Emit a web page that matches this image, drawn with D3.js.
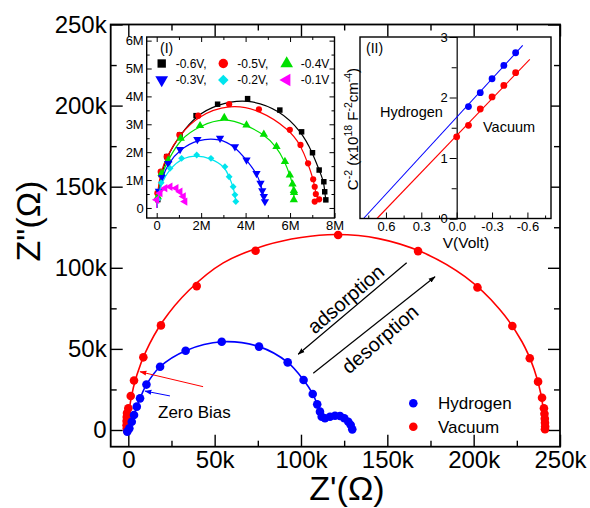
<!DOCTYPE html>
<html>
<head>
<meta charset="utf-8">
<script src="https://cdn.jsdelivr.net/npm/d3@7"></script>
<style>
  body { margin: 0; background: #fff; }
  svg { display: block; font-family: "Liberation Sans", Arial, Helvetica, sans-serif; }
</style>
</head>
<body>
<script>
// ---- main Nyquist plot, values in kOhm ----
const vacuumPts = [[-0.6,-0.6],[-0.9,0.9],[-1,3],[-1,5.5],[-0.9,8],[-0.75,10.5],[0,13.4],[1.4,21],[3.3,30.5],[8.7,44.8],[18.9,64.5],[39.6,88.7],[73.7,110.5],[121.5,120.2],[167.8,110.3],[202.2,87.9],[222.4,64.1],[232.5,44.2],[237.3,29.8],[239.6,19.9],[240.7,13.4],[241,10],[241.2,7],[241.3,4.5],[241.4,2.2],[241.3,0.5]];
const vacuumFit = [[0,0],[0.4,9.8],[1.5,19],[5,34],[10,48],[20,67],[35,86],[55,103],[80,114],[100,118.7],[120.5,120.5],[145,118],[170,109.7],[195,94.5],[215,74.5],[228,54.4],[235,37.5],[239,21.9],[240.5,10],[241,0]];
const hydrogenPts = [[-0.6,-1],[0.6,1],[2,5.1],[3.3,9.2],[4.9,14.4],[6.8,19.5],[10.5,28],[18.4,39],[33.2,48.9],[54.1,54.4],[75.7,51.4],[92.3,41.7],[101.5,30.8],[106.8,22.2],[109.4,15.8],[111,11.3],[112,8.2],[113.9,7.2],[116.8,8.2],[119.7,8.8],[122.6,8.6],[125.1,7.2],[127.4,5.1],[128.8,3.1],[129.7,0.4]];
const mainTicks = [0, 50, 100, 150, 200, 250];
const mainMinor = [25, 75, 125, 175, 225];

// annotation arrows, [from, to] in kOhm
const redArrow = [[43.3,26.7],[6.8,35.9]];
const blueArrow = [[24.1,21],[9.7,24]];
const adsArrow = [[161.2,103.1],[98.4,46.7]];
const desArrow = [[107.1,35],[177.6,94.5]];

// ---- inset (I): values in MOhm ----
const biasLabels = ["-0.6V,", "-0.5V,", "-0.4V", "-0.3V,", "-0.2V,", "-0.1V"];
const biasColors = ["#000000", "#ff0000", "#00e000", "#0000ff", "#00e5ee", "#ff00ff"];
const bias06 = [[0.05,0.3],[0.2,1.2],[0.45,1.84],[1.05,2.62],[1.77,3.31],[2.74,3.72],[4.09,3.92],[5.54,3.51],[6.52,2.73],[7.01,1.98],[7.31,1.36],[7.52,0.94],[7.56,0.58],[7.61,0.29]];
const bias05 = [[0.03,0.53],[0.18,1.3],[0.45,1.84],[1.02,2.62],[1.87,3.31],[3.26,3.72],[4.6,3.54],[5.99,2.8],[6.47,2.26],[6.81,1.6],[7.04,1.03],[7.11,0.76],[7.16,0.5],[7.31,0.31],[7.11,0.23]];
const bias04 = [[0.05,0.4],[0.22,1.24],[0.52,1.72],[1.08,2.5],[1.95,2.95],[3.04,3.24],[4.04,2.97],[4.82,2.64],[5.39,2.2],[5.77,1.66],[5.99,1.18],[6.11,0.86],[6.17,0.62],[6.18,0.55],[6.17,0.29]];
const bias03 = [[0.1,0.6],[0.25,1.1],[0.52,1.6],[1.05,2.1],[1.83,2.46],[2.85,2.5],[3.52,2.2],[4.04,1.72],[4.49,1.24],[4.67,0.89],[4.75,0.62],[4.82,0.41],[4.87,0.23]];
const bias02 = [[0.05,0.3],[0.2,0.9],[0.6,1.42],[1.12,1.78],[1.8,1.9],[2.44,1.78],[3.07,1.48],[3.26,1.12],[3.44,0.76],[3.52,0.47],[3.56,0.23]];
const bias01 = [[0,0.29],[0.15,0.53],[0.37,0.71],[0.6,0.76],[0.87,0.71],[1.05,0.58],[1.2,0.41],[1.27,0.23]];
const biasSeries = [bias06, bias05, bias04, bias03, bias02, bias01];
const fitStart = [0, 0];
const insetXTicks = [0, 2, 4, 6, 8];
const insetYTicks = [0, 1, 2, 3, 4, 5, 6];

// ---- inset (II): Mott-Schottky ----
const hydV = [-0.1, -0.2, -0.3, -0.4, -0.5];
const hydC = [1.85, 2.08, 2.31, 2.53, 2.74];
const vacV = [0, -0.1, -0.2, -0.3, -0.4, -0.5];
const vacC = [1.35, 1.54, 1.81, 2.01, 2.2, 2.41];
const hydFit = [[0.79, 0], [-0.56, 2.86]];
const vacFit = [[0.676, 0], [-0.62, 2.63]];
const msXTicks = [0.6, 0.3, 0, -0.3, -0.6];
const msXMinor = [0.75, 0.45, 0.15, -0.15, -0.45, -0.75];
const msYTicks = [0, 1, 2, 3];
const msYMinor = [0.5, 1.5, 2.5];

const width = 590, height = 508;
const RED = "#ff0000", BLUE = "#0000ff";

const svg = d3.select("body").append("svg")
  .attr("width", width).attr("height", height);

const defs = svg.append("defs");
[["red", RED], ["blue", BLUE], ["black", "#000"]].forEach(([id, c]) => {
  defs.append("marker").attr("id", "head-" + id)
    .attr("viewBox", "0 0 10 10").attr("refX", 9).attr("refY", 5)
    .attr("markerWidth", 7).attr("markerHeight", 7).attr("orient", "auto")
    .attr("markerUnits", "userSpaceOnUse")
    .append("path").attr("d", "M0,1.5L10,5L0,8.5z").attr("fill", c);
});

// ================= main plot =================
const x = d3.scaleLinear().domain([-10.2, 250]).range([110.7, 560]);
const y = d3.scaleLinear().domain([-10.3, 250]).range([446.7, 24.5]);
const fmtK = d => d === 0 ? "0" : d + "k";

function noDomain(g) { g.select(".domain").remove(); }

svg.append("g").attr("transform", `translate(0,${y.range()[0]})`)
  .call(d3.axisBottom(x).tickValues(mainTicks).tickFormat(fmtK).tickSize(-12).tickPadding(4))
  .call(noDomain).call(g => g.selectAll("text").attr("font-size", 24).attr("font-family", null));
svg.append("g").attr("transform", `translate(0,${y.range()[0]})`)
  .call(d3.axisBottom(x).tickValues(mainMinor).tickFormat("").tickSize(-6)).call(noDomain);
svg.append("g").attr("transform", `translate(0,${y.range()[1]})`)
  .call(d3.axisTop(x).tickValues(mainTicks).tickFormat("").tickSize(-12)).call(noDomain);
svg.append("g").attr("transform", `translate(0,${y.range()[1]})`)
  .call(d3.axisTop(x).tickValues(mainMinor).tickFormat("").tickSize(-6)).call(noDomain);
svg.append("g").attr("transform", `translate(${x.range()[0]},0)`)
  .call(d3.axisLeft(y).tickValues(mainTicks).tickFormat(fmtK).tickSize(-12).tickPadding(4))
  .call(noDomain).call(g => g.selectAll("text").attr("font-size", 24).attr("font-family", null));
svg.append("g").attr("transform", `translate(${x.range()[0]},0)`)
  .call(d3.axisLeft(y).tickValues(mainMinor).tickFormat("").tickSize(-6)).call(noDomain);
svg.append("g").attr("transform", `translate(${x.range()[1]},0)`)
  .call(d3.axisRight(y).tickValues(mainTicks).tickFormat("").tickSize(-12)).call(noDomain);
svg.append("g").attr("transform", `translate(${x.range()[1]},0)`)
  .call(d3.axisRight(y).tickValues(mainMinor).tickFormat("").tickSize(-6)).call(noDomain);
svg.selectAll(".tick line").attr("stroke-width", 1.4);

svg.append("rect")
  .attr("x", x.range()[0]).attr("y", y.range()[1])
  .attr("width", x.range()[1] - x.range()[0]).attr("height", y.range()[0] - y.range()[1])
  .attr("fill", "none").attr("stroke", "#000").attr("stroke-width", 1.8);

// axis titles
svg.append("text").attr("x", 347).attr("y", 500).attr("text-anchor", "middle")
  .attr("font-size", 34).text("Z'(Ω)");
svg.append("text").attr("transform", "translate(40,221) rotate(-90)").attr("text-anchor", "middle")
  .attr("font-size", 34).text("Z\"(Ω)");

const line = d3.line().x(d => x(d[0])).y(d => y(d[1]));

svg.append("path").datum(vacuumFit)
  .attr("d", line.curve(d3.curveCatmullRom.alpha(0.5)))
  .attr("fill", "none").attr("stroke", RED).attr("stroke-width", 1.6);
svg.append("path").datum(hydrogenPts)
  .attr("d", line.curve(d3.curveCatmullRom.alpha(0.5)))
  .attr("fill", "none").attr("stroke", BLUE).attr("stroke-width", 1.6);

svg.append("g").selectAll("circle").data(vacuumPts).join("circle")
  .attr("cx", d => x(d[0])).attr("cy", d => y(d[1])).attr("r", 4.3).attr("fill", RED);
svg.append("g").selectAll("circle").data(hydrogenPts).join("circle")
  .attr("cx", d => x(d[0])).attr("cy", d => y(d[1])).attr("r", 4.3).attr("fill", BLUE);

// arrows
function arrow(pts, color, id, w) {
  svg.append("line")
    .attr("x1", x(pts[0][0])).attr("y1", y(pts[0][1]))
    .attr("x2", x(pts[1][0])).attr("y2", y(pts[1][1]))
    .attr("stroke", color).attr("stroke-width", w)
    .attr("marker-end", `url(#head-${id})`);
}
arrow(redArrow, RED, "red", 1);
arrow(blueArrow, BLUE, "blue", 1);
arrow(adsArrow, "#000", "black", 1.2);
arrow(desArrow, "#000", "black", 1.2);

svg.append("text").attr("x", 158).attr("y", 418).attr("font-size", 17).text("Zero Bias");
svg.append("text").attr("transform", "translate(345.7,299) rotate(-40.5)")
  .attr("text-anchor", "middle").attr("dy", "0.35em").attr("font-size", 20).text("adsorption");
svg.append("text").attr("transform", "translate(380,339) rotate(-40.5)")
  .attr("text-anchor", "middle").attr("dy", "0.35em").attr("font-size", 20).text("desorption");

// legend
const legend = svg.append("g");
[["Hydrogen", BLUE, 403.3], ["Vacuum", RED, 426.7]].forEach(([t, c, cy]) => {
  legend.append("circle").attr("cx", 413.3).attr("cy", cy).attr("r", 4.3).attr("fill", c);
  legend.append("text").attr("x", 438).attr("y", cy).attr("dy", "0.36em").attr("font-size", 17).text(t);
});

// ================= inset (I) =================
const ix = d3.scaleLinear().domain([-0.45, 8]).range([146.7, 334.5]);
const iy = d3.scaleLinear().domain([-0.36, 6.13]).range([218, 37]);
const gI = svg.append("g");
gI.append("rect").attr("x", ix.range()[0]).attr("y", iy.range()[1])
  .attr("width", ix.range()[1] - ix.range()[0]).attr("height", iy.range()[0] - iy.range()[1])
  .attr("fill", "#fff");

const fmtM = d => d === 0 ? "0" : d + "M";
const half = a => a.slice(0, -1).map(d => d + (a[1] - a[0]) / 2);
const styleSmall = g => g.selectAll("text").attr("font-size", 13).attr("font-family", null);

gI.append("g").attr("transform", `translate(0,${iy.range()[0]})`)
  .call(d3.axisBottom(ix).tickValues(insetXTicks).tickFormat(fmtM).tickSize(-5).tickPadding(3))
  .call(noDomain).call(styleSmall);
gI.append("g").attr("transform", `translate(0,${iy.range()[0]})`)
  .call(d3.axisBottom(ix).tickValues(half(insetXTicks)).tickFormat("").tickSize(-3)).call(noDomain);
gI.append("g").attr("transform", `translate(0,${iy.range()[1]})`)
  .call(d3.axisTop(ix).tickValues(insetXTicks.slice(0, -1)).tickFormat("").tickSize(-5)).call(noDomain);
gI.append("g").attr("transform", `translate(0,${iy.range()[1]})`)
  .call(d3.axisTop(ix).tickValues(half(insetXTicks)).tickFormat("").tickSize(-3)).call(noDomain);
gI.append("g").attr("transform", `translate(${ix.range()[0]},0)`)
  .call(d3.axisLeft(iy).tickValues(insetYTicks).tickFormat(fmtM).tickSize(-5).tickPadding(3))
  .call(noDomain).call(styleSmall);
gI.append("g").attr("transform", `translate(${ix.range()[0]},0)`)
  .call(d3.axisLeft(iy).tickValues(half(insetYTicks)).tickFormat("").tickSize(-3)).call(noDomain);
gI.append("g").attr("transform", `translate(${ix.range()[1]},0)`)
  .call(d3.axisRight(iy).tickValues(insetYTicks).tickFormat("").tickSize(-5)).call(noDomain);
gI.append("g").attr("transform", `translate(${ix.range()[1]},0)`)
  .call(d3.axisRight(iy).tickValues(half(insetYTicks)).tickFormat("").tickSize(-3)).call(noDomain);

gI.append("rect").attr("x", ix.range()[0]).attr("y", iy.range()[1])
  .attr("width", ix.range()[1] - ix.range()[0]).attr("height", iy.range()[0] - iy.range()[1])
  .attr("fill", "none").attr("stroke", "#000").attr("stroke-width", 1.4);

const symbols = [
  { type: d3.symbolSquare, rot: 0 },
  { type: d3.symbolCircle, rot: 0 },
  { type: d3.symbolTriangle, rot: 0 },
  { type: d3.symbolTriangle, rot: 180 },
  { type: d3.symbolDiamond2, rot: 0 },
  { type: d3.symbolTriangle, rot: -90 }
];
const iline = d3.line().x(d => ix(d[0])).y(d => iy(d[1])).curve(d3.curveBasis);

biasSeries.forEach((pts, i) => {
  gI.append("path").datum([fitStart, ...pts]).attr("d", iline)
    .attr("fill", "none").attr("stroke", biasColors[i]).attr("stroke-width", 1.2);
  gI.append("g").selectAll("path").data(pts).join("path")
    .attr("d", d3.symbol(symbols[i].type, 30))
    .attr("transform", d => `translate(${ix(d[0])},${iy(d[1])}) rotate(${symbols[i].rot})`)
    .attr("fill", biasColors[i]);
});

gI.append("text").attr("x", 160).attr("y", 53).attr("font-size", 14).text("(I)");
const legX = [161.7, 223.3, 286.7], legY = [63.5, 80];
biasLabels.forEach((t, i) => {
  const lx = legX[i % 3], ly = legY[Math.floor(i / 3)];
  gI.append("path").attr("d", d3.symbol(symbols[i].type, 70))
    .attr("transform", `translate(${lx},${ly}) rotate(${symbols[i].rot})`)
    .attr("fill", biasColors[i]);
  gI.append("text").attr("x", lx + 14).attr("y", ly).attr("dy", "0.36em")
    .attr("font-size", 12).text(t);
});

// ================= inset (II) =================
const mx = d3.scaleLinear().domain([0.82, -0.8]).range([360, 551]);
const my = d3.scaleLinear().domain([0, 3]).range([218.5, 37]);
const gII = svg.append("g");
gII.append("rect").attr("x", mx.range()[0]).attr("y", my.range()[1])
  .attr("width", mx.range()[1] - mx.range()[0]).attr("height", my.range()[0] - my.range()[1])
  .attr("fill", "#fff");

gII.append("g").attr("transform", `translate(0,${my.range()[0]})`)
  .call(d3.axisBottom(mx).tickValues(msXTicks).tickFormat(d3.format(".1f")).tickSize(-6).tickPadding(3))
  .call(noDomain).call(styleSmall)
  .call(g => g.selectAll("text").text(d => d3.format(".1f")(d).replace("−", "-")));
gII.append("g").attr("transform", `translate(0,${my.range()[0]})`)
  .call(d3.axisBottom(mx).tickValues(msXMinor).tickFormat("").tickSize(-3)).call(noDomain);
gII.append("g").attr("transform", `translate(${mx(0)},0)`)
  .call(d3.axisLeft(my).tickValues(msYTicks).tickFormat(d3.format("d")).tickSize(7).tickPadding(2))
  .call(g => g.select(".domain").attr("stroke-width", 1.2))
  .call(styleSmall);
gII.append("g").attr("transform", `translate(${mx(0)},0)`)
  .call(d3.axisLeft(my).tickValues(msYMinor).tickFormat("").tickSize(5)).call(noDomain);

const mline = d3.line().x(d => mx(d[0])).y(d => my(d[1]));
gII.append("path").datum(hydFit).attr("d", mline).attr("stroke", BLUE).attr("stroke-width", 1.1).attr("fill", "none");
gII.append("path").datum(vacFit).attr("d", mline).attr("stroke", RED).attr("stroke-width", 1.1).attr("fill", "none");
gII.append("g").selectAll("circle").data(hydV).join("circle")
  .attr("cx", d => mx(d)).attr("cy", (d, i) => my(hydC[i])).attr("r", 3.4).attr("fill", BLUE);
gII.append("g").selectAll("circle").data(vacV).join("circle")
  .attr("cx", d => mx(d)).attr("cy", (d, i) => my(vacC[i])).attr("r", 3.4).attr("fill", RED);

gII.append("rect").attr("x", mx.range()[0]).attr("y", my.range()[1])
  .attr("width", mx.range()[1] - mx.range()[0]).attr("height", my.range()[0] - my.range()[1])
  .attr("fill", "none").attr("stroke", "#000").attr("stroke-width", 1.4);

gII.append("text").attr("x", 366).attr("y", 53).attr("font-size", 14).text("(II)");
gII.append("text").attr("x", 380).attr("y", 117).attr("font-size", 14.5).text("Hydrogen");
gII.append("text").attr("x", 483).attr("y", 132).attr("font-size", 14.5).text("Vacuum");
gII.append("text").attr("x", 466).attr("y", 248).attr("text-anchor", "middle")
  .attr("font-size", 15.5).text("V(Volt)");

const cLabel = gII.append("text").attr("transform", "translate(358,129) rotate(-90)")
  .attr("text-anchor", "middle").attr("font-size", 15);
[["C", 0], ["-2", -6], [" (x10", 6], ["18", -6], [" F", 6], ["-2", -6], ["cm", 6], ["-4", -6], [")", 6]]
  .forEach(([t, dy], i) => {
    const sup = i % 2 === 1;
    cLabel.append("tspan").attr("dy", i === 0 ? 0 : dy)
      .attr("font-size", sup ? 10.5 : 15).text(t);
  });
</script>
</body>
</html>
